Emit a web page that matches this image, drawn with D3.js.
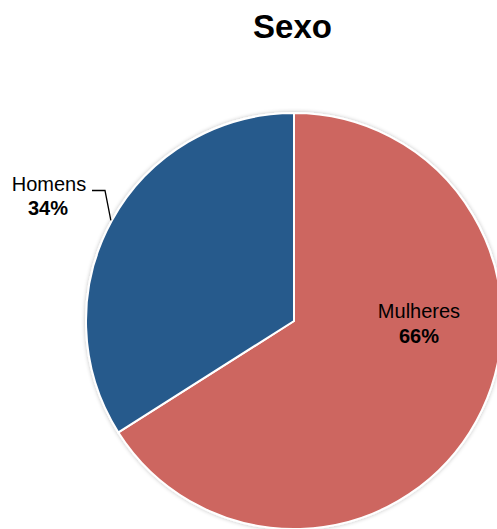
<!DOCTYPE html>
<html>
<head>
<meta charset="utf-8">
<script src="https://cdn.jsdelivr.net/npm/d3@7"></script>
<style>
  html, body { margin: 0; padding: 0; background: #fff; overflow: hidden; }
  svg { display: block; font-family: Arial, "Liberation Sans", sans-serif; }
</style>
</head>
<body>
<svg id="chart" width="497" height="529"></svg>
<script>
// Distribuição por sexo
const title = "Sexo";
const categories = ["Mulheres", "Homens"];
const values = [66, 34];
const colors = ["#CD6660", "#285A8C"];

const svg = d3.select("#chart");
const cx = 294, cy = 321, R = 208;

// soft shadow around the pie
const defs = svg.append("defs");
const f = defs.append("filter").attr("id", "shadow")
  .attr("x", "-10%").attr("y", "-10%").attr("width", "120%").attr("height", "120%");
f.append("feGaussianBlur").attr("in", "SourceAlpha").attr("stdDeviation", 2).attr("result", "b");
f.append("feComponentTransfer").attr("in", "b").attr("result", "s")
  .append("feFuncA").attr("type", "linear").attr("slope", 0.25);
const m = f.append("feMerge");
m.append("feMergeNode").attr("in", "s");
m.append("feMergeNode").attr("in", "SourceGraphic");

svg.append("text")
  .attr("x", 292.5).attr("y", 38)
  .attr("text-anchor", "middle")
  .attr("font-size", 33).attr("font-weight", "bold")
  .attr("fill", "#000")
  .text(title);

const data = categories.map((c, i) => ({ cat: c, value: values[i], color: colors[i] }));
const pie = d3.pie().sort(null).value(d => d.value);
const arc = d3.arc().innerRadius(0).outerRadius(R);
const arcs = pie(data);
const total = d3.sum(values);

const g = svg.append("g").attr("transform", `translate(${cx},${cy})`);
g.append("g").attr("filter", "url(#shadow)")
  .selectAll("path").data(arcs).join("path")
  .attr("d", arc)
  .attr("fill", d => d.data.color)
  .attr("stroke", "#fff")
  .attr("stroke-width", 2)
  .attr("stroke-linejoin", "round");

const fmt = v => Math.round(v / total * 100) + "%";

// Mulheres: label inside its slice
const mul = arcs[0];
const mLabel = svg.append("text").attr("text-anchor", "middle").attr("font-size", 20).attr("fill", "#000");
mLabel.append("tspan").attr("x", 419).attr("y", 318).text(mul.data.cat);
mLabel.append("tspan").attr("x", 419).attr("y", 343).attr("font-weight", "bold").text(fmt(mul.data.value));

// Homens: label outside with a leader line to the middle of the slice's rim
const hom = arcs[1];
const hLabel = svg.append("text").attr("text-anchor", "middle").attr("font-size", 20).attr("fill", "#000");
hLabel.append("tspan").attr("x", 49).attr("y", 191).text(hom.data.cat);
hLabel.append("tspan").attr("x", 48).attr("y", 215).attr("font-weight", "bold").text(fmt(hom.data.value));

const rimAngle = (hom.startAngle + hom.endAngle) / 2;
const rx = cx + (R + 1) * Math.sin(rimAngle);
const ry = cy - (R + 1) * Math.cos(rimAngle);
svg.append("path")
  .attr("d", `M92,190.5 L105,190.5 L${rx},${ry}`)
  .attr("fill", "none")
  .attr("stroke", "#000")
  .attr("stroke-width", 1.3);
</script>
</body>
</html>
